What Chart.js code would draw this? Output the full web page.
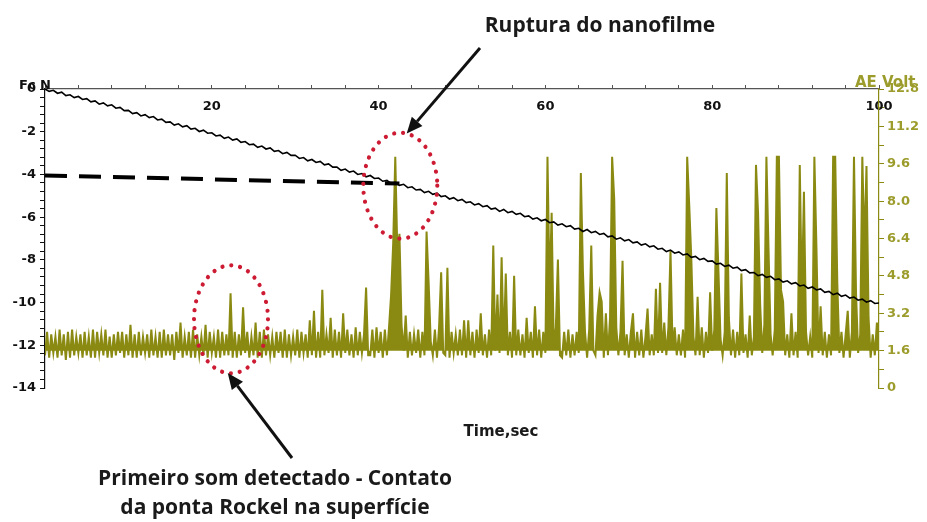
<!DOCTYPE html>
<html>
<head>
<meta charset="utf-8">
<script src="https://cdn.jsdelivr.net/npm/chart.js@4"></script>
<style>
  html, body { margin: 0; padding: 0; background: #fff; }
</style>
</head>
<body>
<canvas id="aeChart" width="927" height="522"></canvas>
<script>
// tick labels
const timeTickLabels = [20, 40, 60, 80, 100];
const forceTickLabels = [0, -2, -4, -6, -8, -10, -12, -14];
const voltTickLabels = [0, 1.6, 3.2, 4.8, 6.4, 8.0, 9.6, 11.2, 12.8];

// normal force Fc (N), one sample every 0.5 s
const forceStep = 0.5;
const forceValues = [
  0.00, -0.11, -0.06, -0.20, -0.15, -0.31, -0.27, -0.40, -0.35, -0.49,
  -0.45, -0.60, -0.56, -0.71, -0.65, -0.79, -0.74, -0.90, -0.86, -1.01,
  -1.00, -1.15, -1.11, -1.26, -1.20, -1.34, -1.29, -1.45, -1.41, -1.56,
  -1.54, -1.69, -1.63, -1.77, -1.72, -1.88, -1.84, -1.99, -1.93, -2.07,
  -2.05, -2.20, -2.16, -2.31, -2.25, -2.39, -2.34, -2.50, -2.46, -2.61,
  -2.58, -2.73, -2.67, -2.81, -2.76, -2.92, -2.88, -3.03, -2.97, -3.11,
  -3.10, -3.25, -3.21, -3.36, -3.30, -3.44, -3.39, -3.55, -3.51, -3.66,
  -3.66, -3.81, -3.75, -3.89, -3.84, -4.00, -3.96, -4.11, -4.05, -4.19,
  -4.17, -4.32, -4.28, -4.43, -4.37, -4.51, -4.46, -4.62, -4.58, -4.73,
  -4.70, -4.85, -4.79, -4.93, -4.88, -5.04, -5.00, -5.15, -5.09, -5.23,
  -5.17, -5.32, -5.28, -5.43, -5.37, -5.51, -5.46, -5.62, -5.58, -5.73,
  -5.64, -5.79, -5.73, -5.87, -5.82, -5.98, -5.94, -6.09, -6.03, -6.17,
  -6.11, -6.26, -6.22, -6.37, -6.31, -6.45, -6.40, -6.56, -6.52, -6.67,
  -6.58, -6.73, -6.67, -6.81, -6.76, -6.92, -6.88, -7.03, -6.97, -7.11,
  -7.05, -7.20, -7.16, -7.31, -7.25, -7.39, -7.34, -7.50, -7.46, -7.61,
  -7.54, -7.69, -7.63, -7.77, -7.72, -7.88, -7.84, -7.99, -7.93, -8.07,
  -8.05, -8.20, -8.16, -8.31, -8.25, -8.39, -8.34, -8.50, -8.46, -8.61,
  -8.59, -8.74, -8.68, -8.82, -8.77, -8.93, -8.89, -9.04, -8.98, -9.12,
  -9.07, -9.22, -9.18, -9.33, -9.27, -9.41, -9.36, -9.52, -9.48, -9.63,
  -9.56, -9.71, -9.65, -9.79, -9.74, -9.89, -9.84, -9.98, -9.91, -10.04,
  -10.02
];

// acoustic emission (V), one sample every 0.25 s, one row per second
const aeStep = 0.25;
const aeValues = [
  1.4,2.4,1.3,2.3, 1.5,2.2,1.3,2.5, 1.4,2.3,1.2,2.4, 1.3,2.5,1.4,2.2, 1.5,2.3,1.3,2.4,
  1.4,2.2,1.3,2.5, 1.3,2.4,1.5,2.3, 1.4,2.5,1.3,2.2, 1.3,2.3,1.4,2.4, 1.5,2.4,1.3,2.3,
  1.4,2.7,1.3,2.3, 1.3,2.4,1.4,2.2, 1.5,2.3,1.3,2.5, 1.4,2.2,1.3,2.4, 1.3,2.5,1.4,2.3,
  1.4,2.3,1.2,2.4, 1.5,2.8,1.3,2.2, 1.4,2.4,1.3,2.5, 1.3,2.3,1.4,2.2, 1.4,2.7,1.3,2.4,
  1.5,2.2,1.3,2.5, 1.3,2.4,1.4,2.3, 1.4,4.05,1.3,2.4, 1.3,2.3,1.4,3.45, 1.5,2.4,1.3,2.2,
  1.4,2.8,1.3,2.4, 1.3,2.5,1.4,2.3, 1.4,2.2,1.3,2.4, 1.5,2.4,1.3,2.5, 1.3,2.3,1.4,2.2,
  1.4,2.5,1.3,2.4, 1.5,2.3,1.3,2.9, 1.4,3.3,1.3,2.4, 1.3,4.2,1.4,2.3, 1.5,3.0,1.3,2.5,
  1.4,2.4,1.3,3.2, 1.5,2.5,1.4,2.3, 1.3,2.6,1.4,2.4, 1.5,2.3,4.3,1.4, 1.4,2.5,1.3,2.6,
  1.5,2.4,1.3,2.5, 1.4,2.6,4.0,6.2, 9.9,5.8,6.6,2.7, 1.6,3.1,1.3,2.4, 1.4,2.3,1.5,2.5,
  1.3,2.4,1.4,6.7, 4.5,2.0,1.4,2.5, 1.3,2.6,4.95,1.5, 1.4,5.15,1.3,2.4, 1.5,2.3,1.4,2.5,
  1.4,2.9,1.3,2.9, 1.4,2.4,1.3,2.5, 1.5,3.2,1.4,2.3, 1.3,2.5,1.4,6.1, 1.6,4.0,1.5,5.6,
  1.7,4.9,1.4,2.4, 1.3,4.8,1.4,2.5, 1.4,2.3,1.3,3.0, 1.5,2.4,1.3,3.5, 1.4,2.5,1.3,2.4,
  1.5,9.9,4.2,7.5, 1.8,2.6,5.5,1.4, 1.3,2.4,1.4,2.5, 1.3,2.3,1.4,2.4, 1.5,9.2,5.0,2.4,
  1.3,2.5,6.1,1.6, 1.4,3.1,4.1,3.7, 1.3,3.2,1.4,3.0, 9.9,8.1,2.6,1.4, 2.4,5.45,1.4,2.3,
  1.3,2.4,3.2,1.3, 2.4,1.4,2.5,1.3, 2.2,3.4,1.4,2.3, 1.4,4.25,1.5,4.5, 1.5,2.8,1.4,2.6,
  5.9,1.7,2.6,1.4, 2.3,1.4,2.5,1.3, 9.9,7.8,5.5,2.2, 1.4,3.9,1.4,2.6, 1.3,2.4,1.5,4.1,
  1.6,2.5,7.7,5.0, 2.1,1.4,2.4,9.2, 3.0,1.4,2.5,1.3, 2.4,1.4,4.9,1.5, 2.3,1.3,3.1,1.4,
  2.2,9.55,7.5,3.6, 1.5,2.7,9.9,6.0, 2.3,1.4,2.5,9.9, 9.9,4.2,3.7,1.4, 2.3,1.3,3.2,1.4,
  2.4,1.3,9.55,3.8, 8.4,2.4,1.4,2.2, 1.3,9.9,6.0,1.5, 3.5,1.4,2.4,1.3, 2.3,1.4,9.9,9.9,
  4.5,1.5,2.4,1.3, 2.3,3.3,1.3,2.4, 9.9,4.0,1.5,2.3, 9.9,6.0,9.5,3.0, 1.3,2.3,1.4,2.8,
  1.7
];

// dashed reference line (time s, force N)
const dashTimes = [0, 42.5];
const dashForce = [-4.05, -4.43];

const olive = '#8a8a12';
const oliveText = '#9c9c2c';
const axisFont = { family: 'DejaVu Sans', weight: 'bold', size: 13 };

function near(v, list) {
  return list.some(l => Math.abs(l - v) < 1e-6);
}

// dotted red circles, anchored on (time, volts)
const marks = [
  { t: 22.3, v: 2.94, rx: 37, ry: 54, headAngle: 95, tail: [292, 458] },
  { t: 42.6, v: 8.66, rx: 37, ry: 53, headAngle: -80, tail: [480, 48] }
];

function drawArrow(ctx, x1, y1, x2, y2) {
  const a = Math.atan2(y2 - y1, x2 - x1);
  const hl = 16, hw = 7;
  const bx = x2 - hl * Math.cos(a), by = y2 - hl * Math.sin(a);
  ctx.setLineDash([]);
  ctx.lineWidth = 3;
  ctx.lineCap = 'butt';
  ctx.beginPath();
  ctx.moveTo(x1, y1);
  ctx.lineTo(bx, by);
  ctx.stroke();
  ctx.beginPath();
  ctx.moveTo(x2, y2);
  ctx.lineTo(bx - hw * Math.sin(a), by + hw * Math.cos(a));
  ctx.lineTo(bx + hw * Math.sin(a), by - hw * Math.cos(a));
  ctx.closePath();
  ctx.fill();
}

const notes = {
  id: 'notes',
  afterDatasetsDraw(chart) {
    const { ctx } = chart;
    const x = chart.scales.x, yV = chart.scales.yV;
    ctx.save();

    marks.forEach(m => {
      const cx = x.getPixelForValue(m.t), cy = yV.getPixelForValue(m.v);
      ctx.strokeStyle = '#cc1b32';
      ctx.lineWidth = 4.2;
      ctx.lineCap = 'round';
      ctx.setLineDash([0.01, 9]);
      ctx.beginPath();
      ctx.ellipse(cx, cy, m.rx, m.ry, 0, 0, Math.PI * 2);
      ctx.stroke();

      const ang = m.headAngle * Math.PI / 180;
      ctx.strokeStyle = '#111';
      ctx.fillStyle = '#111';
      drawArrow(ctx, m.tail[0], m.tail[1], cx + m.rx * Math.cos(ang), cy + m.ry * Math.sin(ang));
    });

    ctx.fillStyle = '#1a1a1a';
    ctx.textBaseline = 'alphabetic';
    ctx.textAlign = 'center';
    ctx.font = 'bold 21px "Open Sans"';
    ctx.fillText('Ruptura do nanofilme', 600, 32);
    ctx.fillText('Primeiro som detectado - Contato', 275, 485);
    ctx.fillText('da ponta Rockel na superfície', 275, 514);

    ctx.font = 'bold 15px "DejaVu Sans"';
    ctx.fillText('Time,sec', 501, 436);

    ctx.textAlign = 'left';
    ctx.fillStyle = '#111';
    ctx.font = 'bold 13px "DejaVu Sans"';
    ctx.fillText('Fc N', 19, 89);
    ctx.fillStyle = oliveText;
    ctx.font = 'bold 15px "DejaVu Sans"';
    ctx.fillText('AE Volt', 855, 87);
    ctx.restore();
  }
};

const ctx = document.getElementById('aeChart').getContext('2d');

new Chart(ctx, {
  type: 'line',
  data: {
    datasets: [
      {
        label: 'dash',
        data: dashTimes.map((t, i) => ({ x: t, y: dashForce[i] })),
        yAxisID: 'yF',
        borderColor: '#000',
        borderWidth: 4,
        borderDash: [22, 12],
        pointRadius: 0,
        order: 0
      },
      {
        label: 'Fc, N',
        data: forceValues.map((v, i) => ({ x: i * forceStep, y: v })),
        yAxisID: 'yF',
        borderColor: '#000',
        borderWidth: 1.6,
        pointRadius: 0,
        order: 1
      },
      {
        label: 'AE, Volt',
        data: aeValues.map((v, i) => ({ x: i * aeStep, y: v })),
        yAxisID: 'yV',
        borderColor: olive,
        backgroundColor: olive,
        fill: { value: 1.6 },
        borderWidth: 2,
        pointRadius: 0,
        order: 2
      }
    ]
  },
  options: {
    responsive: false,
    animation: false,
    layout: { padding: { top: 0, bottom: 134, left: 0, right: 0 } },
    plugins: { legend: { display: false }, tooltip: { enabled: false } },
    scales: {
      x: {
        type: 'linear',
        position: 'top',
        min: 0,
        max: 100,
        ticks: {
          stepSize: 4,
          autoSkip: false,
          maxRotation: 0,
          mirror: true,
          padding: 10,
          color: '#111',
          font: axisFont,
          callback: v => near(v, timeTickLabels) ? String(v) : ''
        },
        grid: { drawOnChartArea: false, tickLength: 4, tickColor: '#555' },
        border: { color: '#555', width: 1.2 },
        afterFit: s => { s.height = 89; }
      },
      yF: {
        position: 'left',
        min: -14,
        max: 0,
        ticks: {
          stepSize: 0.4,
          autoSkip: false,
          padding: 4,
          color: '#111',
          font: axisFont,
          callback: v => near(v, forceTickLabels) ? String(Math.round(v)) : ''
        },
        grid: { drawOnChartArea: false, tickLength: 5, tickColor: '#111' },
        border: { color: '#111', width: 1.2 },
        afterFit: s => { s.width = 45; }
      },
      yV: {
        position: 'right',
        min: 0,
        max: 12.8,
        ticks: {
          stepSize: 0.8,
          autoSkip: false,
          padding: 3,
          color: oliveText,
          font: axisFont,
          callback: v => near(v, voltTickLabels) ? (v === 0 ? '0' : v.toFixed(1)) : ''
        },
        grid: { drawOnChartArea: false, tickLength: 5, tickColor: olive },
        border: { color: olive, width: 1.2 },
        afterFit: s => { s.width = 48; }
      }
    }
  },
  plugins: [notes]
});
</script>
</body>
</html>
